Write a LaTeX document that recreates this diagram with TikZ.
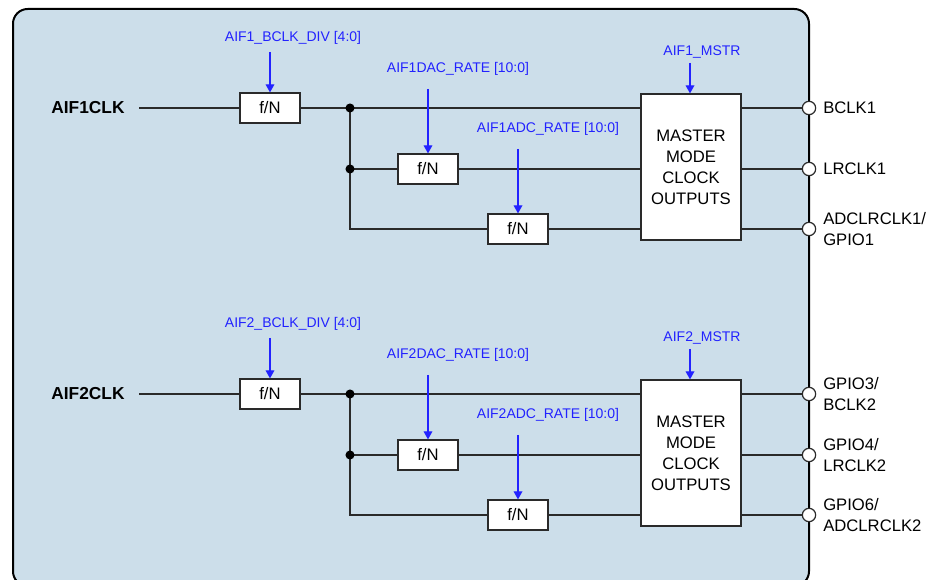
\documentclass[tikz,border=0pt]{standalone}
\usepackage{fontspec}
\setmainfont{Liberation Sans}
\usetikzlibrary{arrows.meta}
\definecolor{bg}{HTML}{CCDEEA}
\definecolor{ln}{HTML}{2A2A2A}
\definecolor{ctl}{HTML}{2222FF}
\begin{document}
\begin{tikzpicture}[x=0.75pt,y=-0.75pt,
  wire/.style={draw=ln, line width=0.9pt},
  divbox/.style={draw=ln, fill=white, line width=0.9pt, minimum width=45pt, minimum height=22.5pt, inner sep=0pt, font=\fontsize{12.5}{15}\selectfont},
  mbox/.style={draw=ln, fill=white, line width=0.9pt, minimum width=75pt, minimum height=109.5pt, inner sep=0pt, align=center, font=\fontsize{12.5}{15.75}\selectfont},
  clklbl/.style={font=\fontsize{13}{15}\selectfont\bfseries, inner sep=0pt},
  outlbl/.style={anchor=west, align=left, inner sep=0pt, font=\fontsize{12.5}{15.75}\selectfont},
  ctllbl/.style={text=ctl, inner sep=0pt, font=\fontsize{10.5}{12}\selectfont},
  carrow/.style={draw=ctl, line width=0.9pt, -{Triangle[width=6.5pt,length=6pt]}},
  pinc/.style={circle, draw=ln, fill=white, line width=0.9pt, minimum size=10pt, inner sep=0pt},
  jdot/.style={circle, fill=black, minimum size=6.8pt, inner sep=0pt}]
\useasboundingbox (0,0) rectangle (936,580);
\begin{scope}
\clip (0,0) rectangle (936,580);
\draw[line width=1.5pt, fill=bg, rounded corners=11pt] (13,9) rectangle (809,586);
\end{scope}

% ===== Section 1 =====
\node[clklbl] (clk1) at (88,108) {AIF1CLK};
\coordinate (in1) at (139,108);
\node[divbox] (d1a) at (270,108) {f/N};
\node[divbox] (d1b) at (428,169) {f/N};
\node[divbox] (d1c) at (518,229) {f/N};
\coordinate (j1a) at (350,108);
\coordinate (j1b) at (350,169);
\coordinate (j1c) at (350,229);
\node[mbox] (m1) at (691,167) {MASTER\\MODE\\CLOCK\\OUTPUTS};
\draw[wire] (in1) -- (d1a);
\draw[wire] (d1a) -- (j1a) -- (m1.west |- j1a);
\draw[wire] (j1a) -- (j1c) -- (d1c);
\draw[wire] (j1b) -- (d1b);
\draw[wire] (d1b) -- (m1.west |- d1b);
\draw[wire] (d1c) -- (m1.west |- d1c);
\node[jdot] (k1a) at (j1a) {};
\node[jdot] (k1b) at (j1b) {};
\node[pinc] (o1a) at (809,108) {};
\node[pinc] (o1b) at (809,169) {};
\node[pinc] (o1c) at (809,229) {};
\draw[wire] (m1.east |- o1a) -- (o1a);
\draw[wire] (m1.east |- o1b) -- (o1b);
\draw[wire] (m1.east |- o1c) -- (o1c);
\node[outlbl] (t1a) at (823,108) {BCLK1};
\node[outlbl] (t1b) at (823,169) {LRCLK1};
\node[outlbl] (t1c) at (823,229) {ADCLRCLK1/\\GPIO1};
\node[ctllbl] (c1a) at (293,38) {AIF1\_BCLK\_DIV [4:0]};
\node[ctllbl] (c1b) at (458,69) {AIF1DAC\_RATE [10:0]};
\node[ctllbl] (c1c) at (548,129) {AIF1ADC\_RATE [10:0]};
\node[ctllbl] (c1d) at (702,52) {AIF1\_MSTR};
\coordinate (s1a) at (270,52);
\coordinate (s1b) at (428,89);
\coordinate (s1c) at (518,149);
\coordinate (s1d) at (690,63);
\draw[carrow] (s1a) -- (s1a |- d1a.north);
\draw[carrow] (s1b) -- (s1b |- d1b.north);
\draw[carrow] (s1c) -- (s1c |- d1c.north);
\draw[carrow] (s1d) -- (s1d |- m1.north);

% ===== Section 2 =====
\node[clklbl] (clk2) at (88,394) {AIF2CLK};
\coordinate (in2) at (139,394);
\node[divbox] (d2a) at (270,394) {f/N};
\node[divbox] (d2b) at (428,455) {f/N};
\node[divbox] (d2c) at (518,515) {f/N};
\coordinate (j2a) at (350,394);
\coordinate (j2b) at (350,455);
\coordinate (j2c) at (350,515);
\node[mbox] (m2) at (691,453) {MASTER\\MODE\\CLOCK\\OUTPUTS};
\draw[wire] (in2) -- (d2a);
\draw[wire] (d2a) -- (j2a) -- (m2.west |- j2a);
\draw[wire] (j2a) -- (j2c) -- (d2c);
\draw[wire] (j2b) -- (d2b);
\draw[wire] (d2b) -- (m2.west |- d2b);
\draw[wire] (d2c) -- (m2.west |- d2c);
\node[jdot] (k2a) at (j2a) {};
\node[jdot] (k2b) at (j2b) {};
\node[pinc] (o2a) at (809,394) {};
\node[pinc] (o2b) at (809,455) {};
\node[pinc] (o2c) at (809,515) {};
\draw[wire] (m2.east |- o2a) -- (o2a);
\draw[wire] (m2.east |- o2b) -- (o2b);
\draw[wire] (m2.east |- o2c) -- (o2c);
\node[outlbl] (t2a) at (823,394) {GPIO3/\\BCLK2};
\node[outlbl] (t2b) at (823,455) {GPIO4/\\LRCLK2};
\node[outlbl] (t2c) at (823,515) {GPIO6/\\ADCLRCLK2};
\node[ctllbl] (c2a) at (293,324) {AIF2\_BCLK\_DIV [4:0]};
\node[ctllbl] (c2b) at (458,355) {AIF2DAC\_RATE [10:0]};
\node[ctllbl] (c2c) at (548,415) {AIF2ADC\_RATE [10:0]};
\node[ctllbl] (c2d) at (702,338) {AIF2\_MSTR};
\coordinate (s2a) at (270,338);
\coordinate (s2b) at (428,375);
\coordinate (s2c) at (518,435);
\coordinate (s2d) at (690,349);
\draw[carrow] (s2a) -- (s2a |- d2a.north);
\draw[carrow] (s2b) -- (s2b |- d2b.north);
\draw[carrow] (s2c) -- (s2c |- d2c.north);
\draw[carrow] (s2d) -- (s2d |- m2.north);
\end{tikzpicture}
\end{document}
